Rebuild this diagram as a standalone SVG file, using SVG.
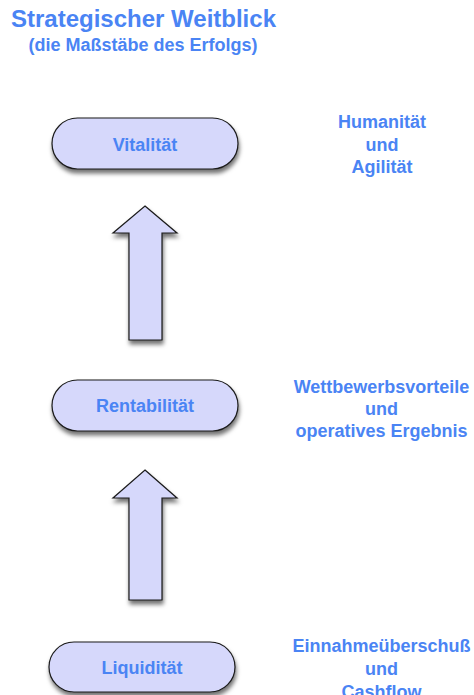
<svg xmlns="http://www.w3.org/2000/svg" width="474" height="695" viewBox="0 0 474 695">
  <defs>
    <filter id="shadow" x="-20%" y="-30%" width="140%" height="170%">
      <feDropShadow dx="1" dy="4" stdDeviation="2.2" flood-color="#000" flood-opacity="0.55"/>
    </filter>
    <style>
      text { font-family: "Liberation Sans", Arial, Helvetica, sans-serif; font-weight: bold; fill: #4a84f4; text-anchor: middle; }
      .title { font-size: 24px; }
      .sub { font-size: 18px; }
      .label { font-size: 18px; }
      .note { font-size: 18px; }
      .pill { fill: #d6d8fb; stroke: #1a1a1a; stroke-width: 1.2; filter: url(#shadow); }
      .arrow { fill: #d6d8fb; stroke: #1a1a1a; stroke-width: 1.2; stroke-linejoin: miter; filter: url(#shadow); }
    </style>
  </defs>

  <rect width="474" height="695" fill="#ffffff"/>

  <!-- heading -->
  <g id="heading">
    <text class="title" x="143.5" y="27">Strategischer Weitblick</text>
    <text class="sub" x="143" y="51">(die Maßstäbe des Erfolgs)</text>
  </g>

  <!-- upward arrows between the levels -->
  <g id="connectors">
    <path class="arrow" d="M145,206 L177,233 L162,233 L162,340 L129,340 L129,233 L113,233 Z"/>
    <path class="arrow" d="M145,470 L177,498 L162,498 L162,600 L129,600 L129,498 L113,498 Z"/>
  </g>

  <!-- levels -->
  <g id="vitalitaet">
    <rect class="pill" x="52" y="118" width="186" height="51" rx="25.5" ry="25.5"/>
    <text class="label" x="145" y="151">Vitalität</text>
  </g>

  <g id="rentabilitaet">
    <rect class="pill" x="52" y="380" width="186" height="51" rx="25.5" ry="25.5"/>
    <text class="label" x="145" y="412">Rentabilität</text>
  </g>

  <g id="liquiditaet">
    <rect class="pill" x="49" y="642" width="186" height="50" rx="25" ry="25"/>
    <text class="label" x="142" y="674">Liquidität</text>
  </g>

  <!-- descriptions beside each level -->
  <g id="note-vitalitaet">
    <text class="note" x="382" y="128">Humanität</text>
    <text class="note" x="382" y="151">und</text>
    <text class="note" x="382" y="173">Agilität</text>
  </g>

  <g id="note-rentabilitaet">
    <text class="note" x="381.5" y="393">Wettbewerbsvorteile</text>
    <text class="note" x="381.5" y="415">und</text>
    <text class="note" x="381.5" y="437">operatives Ergebnis</text>
  </g>

  <g id="note-liquiditaet">
    <text class="note" x="381.5" y="652">Einnahmeüberschuß</text>
    <text class="note" x="381.5" y="675">und</text>
    <text class="note" x="381.5" y="698">Cashflow</text>
  </g>
</svg>
